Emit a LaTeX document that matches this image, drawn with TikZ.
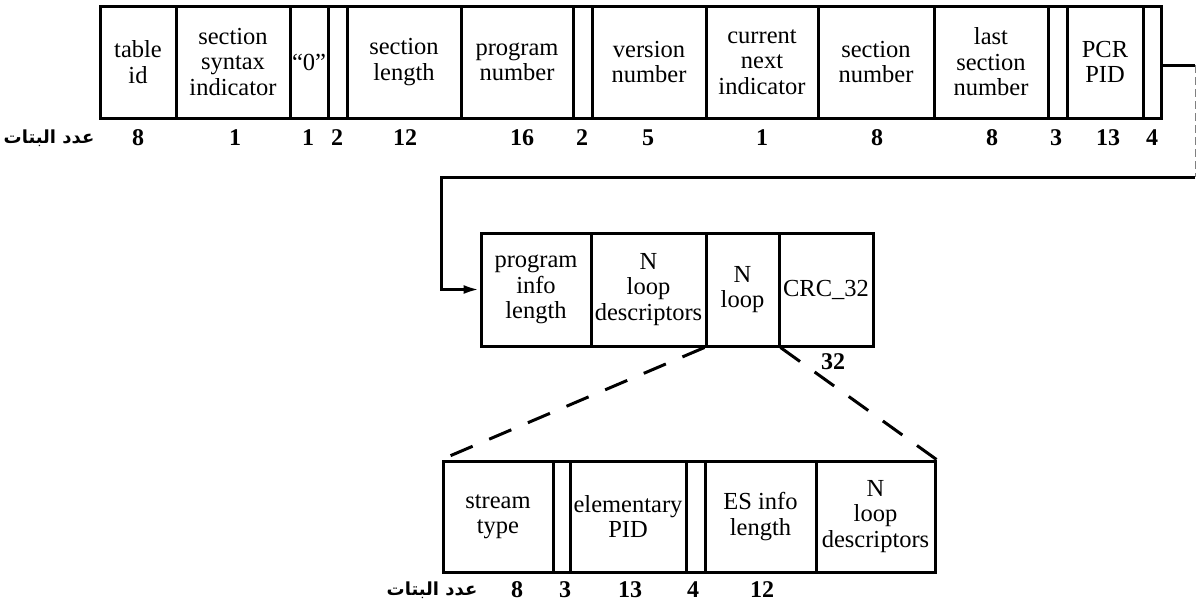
\documentclass[tikz,border=0pt]{standalone}
\usepackage{fontspec}
\setmainfont{Liberation Serif}
\newfontfamily\arabicfont[Script=Arabic]{DejaVu Sans}
\TeXXeTstate=1
\usetikzlibrary{arrows.meta}
\begin{document}
\begin{tikzpicture}[x=1pt,y=-1pt,
  field/.style={draw, line width=3pt, inner sep=0pt, align=center,
    font=\fontsize{24.5}{25.5}\selectfont},
  toprow/.style={field, minimum height=112pt},
  midrow/.style={field, minimum height=113pt},
  botrow/.style={field, minimum height=111pt},
  bits/.style={inner sep=0pt, font=\fontsize{24}{24}\bfseries\selectfont},
  arlabel/.style={inner sep=0pt, font=\arabicfont\fontsize{18}{18}\bfseries\selectfont},
  conn/.style={line width=3pt},
  faint/.style={line width=1pt, gray, dash pattern=on 8pt off 4pt},
  dashline/.style={line width=3pt, dash pattern=on 24pt off 18pt}]
\useasboundingbox (0,0) rectangle (1197,608);
% top row
\node[toprow, minimum width=76pt]  (tid)  at (138,62)    {table\\id};
\node[toprow, minimum width=114pt] (ssi)  at (233,62)    {section\\syntax\\indicator};
\node[toprow, minimum width=38pt]  (zero) at (309,62)    {“0”};
\node[toprow, minimum width=19pt]  (r1)   at (337.5,62)  {};
\node[toprow, minimum width=114pt] (slen) at (404,62)    {section\\length};
\node[toprow, minimum width=112pt] (pnum) at (517,62)    {program\\number};
\node[toprow, minimum width=19pt]  (r2)   at (582.5,62)  {};
\node[toprow, minimum width=114pt] (vnum) at (649,62)    {version\\number};
\node[toprow, minimum width=112pt] (cni)  at (762,62)    {current\\next\\indicator};
\node[toprow, minimum width=116pt] (snum) at (876,62)    {section\\number};
\node[toprow, minimum width=114pt] (lsn)  at (991,62)    {last\\section\\number};
\node[toprow, minimum width=19pt]  (r3)   at (1057.5,62) {};
\node[toprow, minimum width=76pt]  (pcr)  at (1105,62)   {PCR\\PID};
\node[toprow, minimum width=18pt]  (r4)   at (1152,62)   {};
% top bit counts
\node[arlabel] (ar1) at (49,138) {\beginR عدد البتات\endR};
\node[bits] (t1)  at (138,138)  {8};
\node[bits] (t2)  at (235,138)  {1};
\node[bits] (t3)  at (308,138)  {1};
\node[bits] (t4)  at (337,138)  {2};
\node[bits] (t5)  at (405,138)  {12};
\node[bits] (t6)  at (522,138)  {16};
\node[bits] (t7)  at (582,138)  {2};
\node[bits] (t8)  at (648,138)  {5};
\node[bits] (t9)  at (762,138)  {1};
\node[bits] (t10) at (877,138)  {8};
\node[bits] (t11) at (992,138)  {8};
\node[bits] (t12) at (1056,138) {3};
\node[bits] (t13) at (1108,138) {13};
\node[bits] (t14) at (1152,138) {4};
% middle row
\node[midrow, minimum width=110pt] (pil) at (536,289.5)   {program\\info\\length};
\node[midrow, minimum width=115pt] (nld) at (648.5,289.5) {N\\loop\\descriptors};
\node[midrow, minimum width=73pt]  (nl)  at (742.5,289.5) {N\\loop};
\node[midrow, minimum width=94pt]  (crc) at (826,289.5)   {CRC\_32};
\node[bits] (m32) at (833,362) {32};
% bottom row
\node[botrow, minimum width=110pt] (st)   at (498,516.5)   {stream\\type};
\node[botrow, minimum width=17pt]  (b1)   at (561.5,516.5) {};
\node[botrow, minimum width=116pt] (epid) at (628,516.5)   {elementary\\PID};
\node[botrow, minimum width=19pt]  (b2)   at (695.5,516.5) {};
\node[botrow, minimum width=111pt] (esl)  at (760.5,516.5) {ES info\\length};
\node[botrow, minimum width=119pt] (nld2) at (875.5,516.5) {N\\loop\\descriptors};
% bottom bit counts
\node[arlabel] (ar2) at (432,590) {\beginR عدد البتات\endR};
\node[bits] (u1) at (517,590) {8};
\node[bits] (u2) at (565,590) {3};
\node[bits] (u3) at (630,590) {13};
\node[bits] (u4) at (693,590) {4};
\node[bits] (u5) at (762,590) {12};
% connector from top row to middle row
\coordinate (c1) at (1195,65);
\coordinate (c2) at (1195,177);
\coordinate (c3) at (441,177);
\draw[conn] (r4.east |- c1) -- (c1);
\draw[faint] (c1) -- (c2);
\draw[conn, -{Latex[length=16pt,width=9pt]}] (c2) -- (c3) |- (pil.west);
% dashed expansion lines
\draw[dashline] (nl.south west) -- (st.north west);
\draw[dashline] (nl.south east) -- (nld2.north east);
\end{tikzpicture}
\end{document}
